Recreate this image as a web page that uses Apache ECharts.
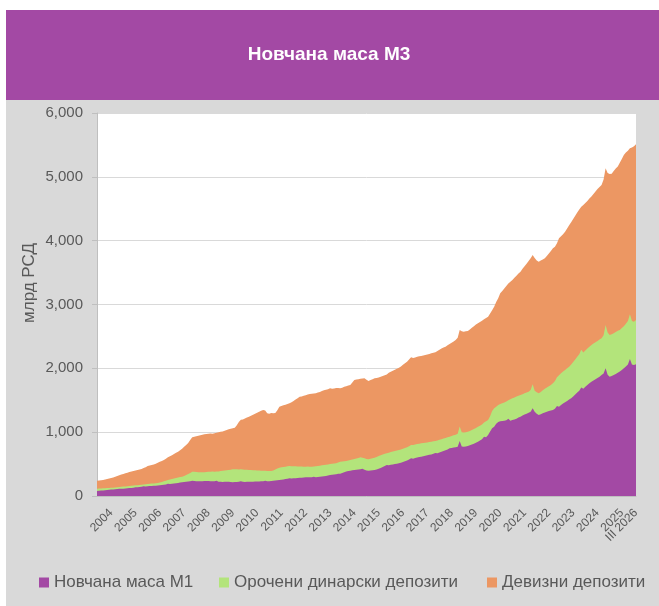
<!DOCTYPE html>
<html>
<head>
<meta charset="utf-8">
<script src="https://cdn.jsdelivr.net/npm/echarts@6/dist/echarts.min.js"></script>
<style>
html,body{margin:0;padding:0;background:#fff;}
#c{width:659px;height:606px;}
</style>
</head>
<body>
<div id="c"></div>
<script>
// Monthly data, I 2004 – III 2026, bn RSD (levels)
const startYear = 2004;
const romanMonths = ['I','II','III','IV','V','VI','VII','VIII','IX','X','XI','XII'];
const yTicks = [0, 1000, 2000, 3000, 4000, 5000, 6000];

// Новчана маса М1
const m1 = [
  80,82,85,88,91,94,97,100,102,105,108,115,
  112,115,118,121,124,127,130,136,139,142,145,152,
  150,153,156,158,160,162,166,170,174,178,182,190,
  188,192,196,200,205,210,214,218,222,226,230,240,
  235,232,230,230,232,234,236,235,233,230,230,238,
  225,222,220,222,224,224,218,216,218,220,222,232,
  222,220,222,224,224,225,226,228,229,230,232,240,
  232,233,235,238,242,246,250,255,260,265,270,280,
  275,278,280,282,285,287,290,292,293,292,292,300,
  295,298,302,306,310,315,320,329,332,336,340,350,
  350,360,372,383,390,397,402,406,410,414,418,425,
  410,400,397,400,403,407,415,425,440,455,470,486,
  480,488,495,500,506,512,522,532,545,558,572,590,
  585,595,605,610,616,622,630,638,645,652,660,675,
  670,680,692,705,718,730,747,752,758,763,770,860,
  775,770,775,785,795,808,820,835,851,870,890,930,
  920,956,1010,1060,1086,1130,1160,1170,1175,1180,1185,1210,
  1180,1190,1200,1212,1228,1243,1260,1275,1290,1305,1320,1374,
  1320,1290,1269,1280,1295,1310,1320,1330,1340,1348,1365,1410,
  1400,1426,1450,1470,1490,1510,1530,1560,1590,1620,1650,1700,
  1680,1710,1740,1765,1791,1810,1830,1850,1870,1896,1920,2000,
  1900,1870,1880,1895,1910,1930,1950,1974,2000,2030,2060,2147,
  2060,2053,2063
];

// М1 + орочени динарски депозити (upper edge of the green band)
const m1PlusTermDinar = [
  115,117,119,121,123,125,127,129,131,133,136,140,
  143,147,150,154,157,160,163,167,170,173,176,182,
  185,188,191,194,196,198,205,212,220,230,240,251,
  258,266,274,282,290,297,303,315,330,345,360,381,
  378,375,372,371,372,374,376,378,380,382,381,383,
  385,390,396,400,404,407,412,418,420,418,417,418,
  415,412,410,408,407,405,402,400,398,396,395,394,
  392,390,392,400,415,430,444,450,455,460,465,470,
  468,466,465,463,462,461,460,460,461,460,460,462,
  465,470,475,480,485,490,495,501,505,510,515,525,
  538,540,545,550,557,564,572,580,588,595,606,600,
  590,580,575,582,590,601,612,625,638,650,660,669,
  678,688,698,706,714,721,730,740,752,765,780,799,
  800,808,815,820,825,830,835,840,845,850,856,862,
  870,880,890,900,910,920,929,940,950,960,975,1090,
  1000,995,1000,1008,1020,1035,1050,1065,1086,1100,1120,1150,
  1170,1191,1250,1330,1374,1400,1426,1440,1452,1465,1480,1500,
  1515,1530,1545,1560,1572,1583,1595,1608,1620,1635,1660,1750,
  1650,1625,1609,1630,1655,1680,1700,1720,1740,1766,1800,1860,
  1890,1923,1950,1975,2000,2026,2060,2100,2140,2180,2220,2290,
  2250,2280,2310,2340,2366,2390,2410,2430,2450,2471,2520,2680,
  2560,2523,2535,2550,2570,2590,2601,2630,2660,2700,2740,2847,
  2740,2731,2758
];

// Новчана маса М3 (top of the orange band = + девизни депозити)
const m3 = [
  238,242,247,252,259,266,273,281,290,300,313,325,
  338,345,355,365,375,383,392,400,408,415,423,440,
  452,470,478,487,495,505,522,535,550,565,585,606,
  622,640,658,676,694,715,740,773,800,830,877,920,
  929,935,945,950,958,967,972,975,978,975,982,990,
  1000,1005,1012,1023,1035,1045,1055,1061,1070,1110,1160,1195,
  1200,1215,1230,1243,1258,1272,1290,1306,1320,1335,1348,1340,
  1296,1290,1300,1296,1300,1345,1400,1410,1420,1430,1440,1452,
  1470,1490,1510,1530,1556,1560,1570,1580,1590,1598,1600,1605,
  1609,1620,1630,1645,1655,1665,1672,1687,1680,1685,1690,1692,
  1687,1695,1710,1720,1730,1739,1780,1818,1825,1830,1835,1842,
  1844,1820,1802,1817,1830,1844,1850,1858,1870,1880,1890,1905,
  1930,1948,1962,1978,1993,2011,2030,2055,2080,2105,2140,2173,
  2160,2170,2180,2190,2194,2200,2210,2215,2225,2235,2245,2252,
  2270,2290,2310,2325,2339,2360,2380,2400,2420,2444,2480,2600,
  2580,2575,2580,2585,2610,2635,2660,2685,2706,2725,2745,2770,
  2790,2810,2860,2910,2966,3040,3098,3176,3210,3250,3290,3330,
  3358,3385,3420,3450,3485,3515,3560,3600,3640,3680,3724,3776,
  3730,3690,3671,3690,3705,3724,3760,3800,3840,3880,3906,3960,
  4037,4070,4100,4141,4190,4240,4290,4340,4390,4440,4490,4533,
  4560,4590,4620,4660,4690,4730,4770,4810,4840,4873,4960,5134,
  5060,5045,5050,5090,5130,5160,5220,5280,5343,5380,5410,5447,
  5460,5480,5510
];

const seriesNames = ['Новчана маса М1', 'Орочени динарски депозити', 'Девизни депозити'];
const colors = ['#A349A4', '#B3E47B', '#EC9763'];

const categories = m3.map((_, i) =>
  romanMonths[i % 12] + ' ' + (startYear + Math.floor(i / 12)));
const last = categories.length - 1;

const FONT = '"Liberation Sans", Arial, sans-serif';
const chart = echarts.init(document.getElementById('c'), null, {renderer: 'canvas'});

function areaSeries(name, data, color, z) {
  return {
    name, type: 'line', data, z, xAxisIndex: 0,
    showSymbol: false, symbol: 'none',
    lineStyle: {width: 0, color},
    itemStyle: {color},
    areaStyle: {color, opacity: 1},
    emphasis: {disabled: true},
    animation: false
  };
}

const legendLefts = [34, 214, 482];
const legends = seriesNames.map((n, k) => ({
  data: [n],
  left: legendLefts[k], top: 569,
  icon: 'rect', itemWidth: 10, itemHeight: 10,
  textStyle: {color: '#595959', fontSize: 17, fontFamily: FONT},
  selectedMode: false
}));

const labelBase = {
  rotate: 45, margin: 15, color: '#595959', fontSize: 12, fontFamily: FONT,
  hideOverlap: false, showMaxLabel: true, showMinLabel: true
};

chart.setOption({
  animation: false,
  backgroundColor: '#ffffff',
  graphic: [
    {type: 'rect', z: -10, shape: {x: 6, y: 10, width: 653, height: 90}, style: {fill: '#A349A4'}},
    {type: 'rect', z: -10, shape: {x: 6, y: 100, width: 653, height: 506}, style: {fill: '#D9D9D9'}},
    {type: 'text', z: 10, x: 329, y: 55,
      style: {text: 'Новчана маса М3', fill: '#ffffff', font: 'bold 19px ' + FONT,
        textAlign: 'center', textVerticalAlign: 'middle'}},
    {type: 'text', z: 10, x: 29, y: 283, rotation: Math.PI / 2,
      style: {text: 'млрд РСД', fill: '#595959', font: '17px ' + FONT,
        textAlign: 'center', textVerticalAlign: 'middle'}}
  ],
  legend: legends,
  grid: {left: 97, right: 23, top: 113, bottom: 110, show: true,
    backgroundColor: '#ffffff', borderWidth: 0},
  xAxis: [
    {
      type: 'category', data: categories, boundaryGap: false, position: 'bottom',
      axisLine: {show: true, lineStyle: {color: '#BFBFBF', width: 1}},
      axisTick: {show: false},
      splitLine: {show: false},
      axisLabel: Object.assign({}, labelBase, {
        interval: (i) => i % 12 === 7,
        formatter: (v) => v.split(' ')[1]
      })
    },
    {
      type: 'category', data: categories, boundaryGap: false, position: 'bottom',
      axisLine: {show: false},
      axisTick: {show: false},
      splitLine: {show: false},
      axisLabel: Object.assign({}, labelBase, {
        interval: (i) => i === last,
        formatter: (v) => v
      })
    }
  ],
  yAxis: {
    type: 'value', min: yTicks[0], max: yTicks[yTicks.length - 1],
    interval: yTicks[1] - yTicks[0],
    axisLine: {show: true, lineStyle: {color: '#BFBFBF', width: 1}},
    axisTick: {show: true, length: 5, lineStyle: {color: '#BFBFBF'}},
    splitLine: {show: true, lineStyle: {color: '#D9D9D9', width: 1}},
    axisLabel: {
      margin: 14, color: '#595959', fontSize: 15, fontFamily: FONT,
      formatter: (v) => v.toLocaleString('en-US')
    }
  },
  series: [
    areaSeries(seriesNames[2], m3, colors[2], 2),
    areaSeries(seriesNames[1], m1PlusTermDinar, colors[1], 3),
    areaSeries(seriesNames[0], m1, colors[0], 4)
  ]
});
</script>
</body>
</html>
